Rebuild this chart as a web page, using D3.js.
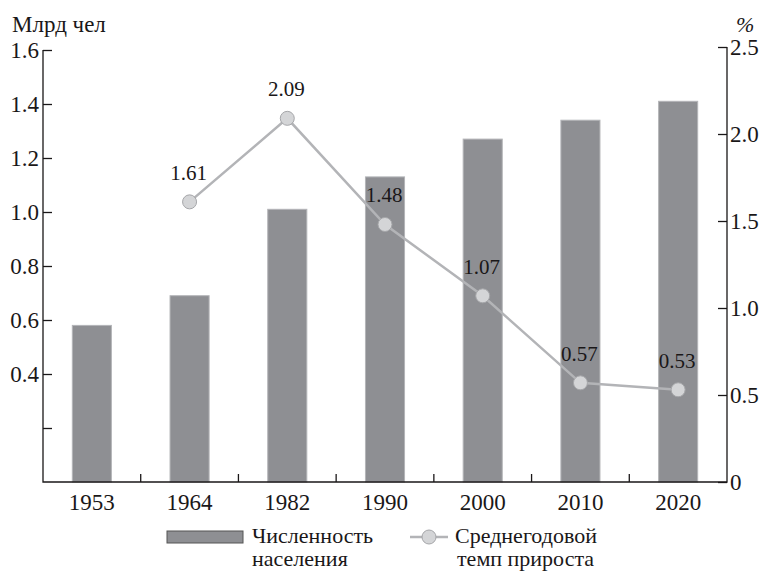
<!DOCTYPE html>
<html>
<head>
<meta charset="utf-8">
<script src="https://cdn.jsdelivr.net/npm/d3@7"></script>
<style>
  body { margin: 0; background: #fff; }
  svg text { font-family: 'Liberation Serif', 'DejaVu Serif', serif; fill: #1a1718; }
</style>
</head>
<body>
<script>
var years = ['1953', '1964', '1982', '1990', '2000', '2010', '2020'];
var population = [0.58, 0.69, 1.01, 1.13, 1.27, 1.34, 1.41];
var growthYears = ['1964', '1982', '1990', '2000', '2010', '2020'];
var growth = [1.61, 2.09, 1.48, 1.07, 0.57, 0.53];
var leftTicks = [0.2, 0.4, 0.6, 0.8, 1.0, 1.2, 1.4, 1.6];
var rightTicks = [0, 0.5, 1.0, 1.5, 2.0, 2.5];

var width = 762,
    height = 571,
    left = 43, right = 727, bottom = 482;

var svg = d3.select('body').append('svg')
    .attr('width', width)
    .attr('height', height);

var x = d3.scaleBand().domain(years).range([left, right])
    .paddingInner(0.6).paddingOuter(0.3);
var y = d3.scaleLinear().domain([0, 1.6]).range([bottom, 50]);
var y2 = d3.scaleLinear().domain([0, 2.5]).range([bottom, 47]);

// bars
svg.append('g')
    .selectAll('rect')
    .data(years)
    .enter()
    .append('rect')
    .attr('x', (d) => x(d))
    .attr('width', x.bandwidth())
    .attr('y', (d, i) => y(population[i]))
    .attr('height', (d, i) => bottom - y(population[i]))
    .style('fill', '#8e8f93')
    .style('stroke', '#b4b5b8')
    .style('stroke-width', 1);

// left axis
var axisL = d3.axisLeft(y).tickValues(leftTicks).tickSize(-9).tickPadding(4)
    .tickFormat((d) => d < 0.3 ? '' : d3.format('.1f')(d));
var gL = svg.append('g')
    .attr('transform', 'translate(' + left + ',0)')
    .call(axisL);

// right axis
var axisR = d3.axisRight(y2).tickValues(rightTicks).tickSize(-9).tickPadding(3)
    .tickFormat((d) => d === 0 ? '0' : d3.format('.1f')(d));
var gR = svg.append('g')
    .attr('transform', 'translate(' + right + ',0)')
    .call(axisR);

// bottom axis: ticks at band boundaries
var axisB = d3.axisBottom(x).tickSize(0).tickPadding(8);
var gB = svg.append('g')
    .attr('transform', 'translate(0,' + bottom + ')')
    .call(axisB);
gB.selectAll('.sep')
    .data(years.slice(1))
    .enter()
    .append('line')
    .attr('class', 'sep')
    .attr('x1', (d) => x(d) - x.step() * x.paddingInner() / 2)
    .attr('x2', (d) => x(d) - x.step() * x.paddingInner() / 2)
    .attr('y1', 0)
    .attr('y2', -8);

[gL, gR, gB].forEach((g) => {
    g.attr('font-family', null);
    g.select('.domain').remove();
    g.selectAll('line').attr('stroke', '#1a1718').attr('stroke-width', 1.3);
    g.selectAll('text').style('font-size', '23px');
});
gB.selectAll('text').attr('dy', '0.85em');

// axis lines
svg.append('path')
    .attr('d', 'M' + left + ',' + y(1.6) + 'V' + bottom + 'H' + right + 'V' + y2(2.5))
    .attr('fill', 'none')
    .attr('stroke', '#1a1718')
    .attr('stroke-width', 1.3);

svg.append('text')
    .attr('x', 12).attr('y', 32)
    .style('font-size', '23px')
    .text('Млрд чел');
svg.append('text')
    .attr('x', 736).attr('y', 32)
    .style('font-size', '22px')
    .style('font-style', 'italic')
    .text('%');

// growth line
var cx = (d) => x(d) + x.bandwidth() / 2;
var line = d3.line()
    .x((d, i) => cx(growthYears[i]))
    .y((d) => y2(d));

svg.append('path')
    .datum(growth)
    .attr('d', line)
    .attr('fill', 'none')
    .attr('stroke', '#b3b4b7')
    .attr('stroke-width', 2.5);

svg.append('g')
    .selectAll('circle')
    .data(growth)
    .enter()
    .append('circle')
    .attr('cx', (d, i) => cx(growthYears[i]))
    .attr('cy', (d) => y2(d))
    .attr('r', 7)
    .style('fill', '#d4d5d7')
    .style('stroke', '#a5a6a9')
    .style('stroke-width', 1);

svg.append('g')
    .selectAll('text')
    .data(growth)
    .enter()
    .append('text')
    .attr('x', (d, i) => cx(growthYears[i]) - 1)
    .attr('y', (d) => y2(d) - 22)
    .attr('text-anchor', 'middle')
    .style('font-size', '21px')
    .text((d) => d3.format('.2f')(d));

// legend
var legend = svg.append('g');
legend.append('rect')
    .attr('x', 167).attr('y', 531)
    .attr('width', 76).attr('height', 12)
    .style('fill', '#8e8f93')
    .style('stroke', '#555')
    .style('stroke-width', 1);
legend.append('text').attr('x', 252).attr('y', 543).style('font-size', '22px').text('Численность');
legend.append('text').attr('x', 252).attr('y', 566).style('font-size', '22px').text('населения');

legend.append('line')
    .attr('x1', 410).attr('x2', 448).attr('y1', 537).attr('y2', 537)
    .attr('stroke', '#b3b4b7').attr('stroke-width', 2.5);
legend.append('circle')
    .attr('cx', 429).attr('cy', 537).attr('r', 7)
    .style('fill', '#d4d5d7').style('stroke', '#a5a6a9');
legend.append('text').attr('x', 455).attr('y', 543).style('font-size', '22px').text('Среднегодовой');
legend.append('text').attr('x', 457).attr('y', 566).style('font-size', '22px').text('темп прироста');
</script>
</body>
</html>
